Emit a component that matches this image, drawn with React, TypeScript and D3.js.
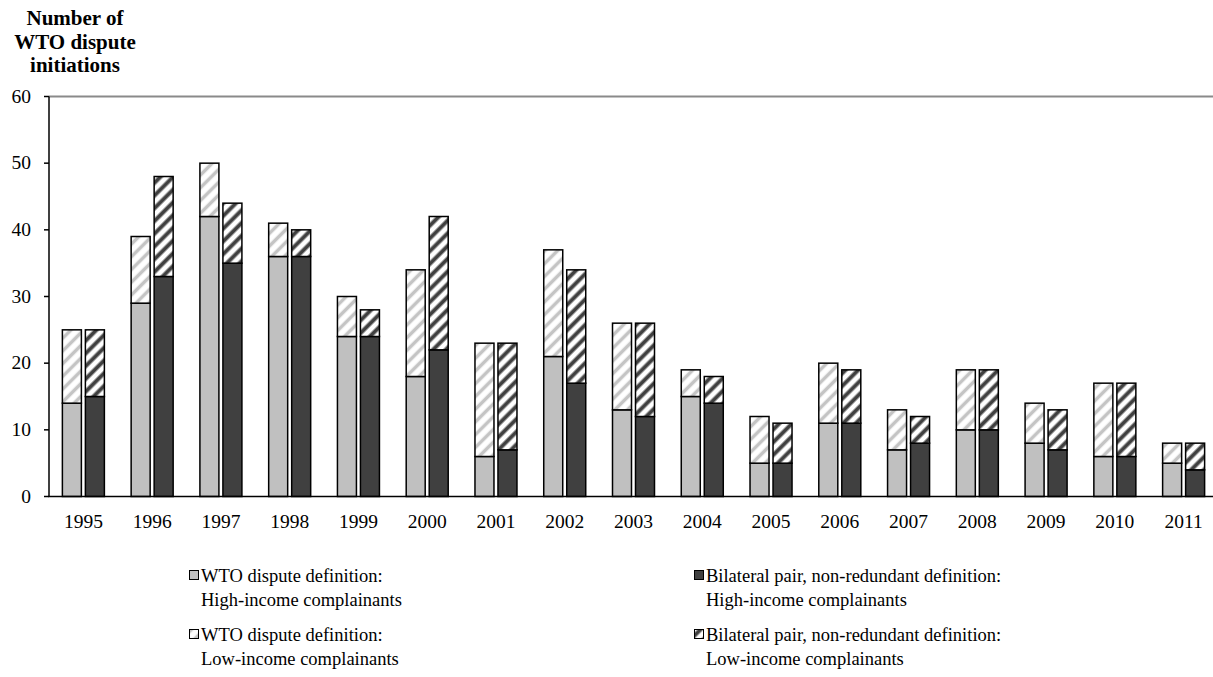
import React from "react";
import * as d3 from "d3";

const years = ["1995","1996","1997","1998","1999","2000","2001","2002","2003","2004","2005","2006","2007","2008","2009","2010","2011"];
// WTO dispute definition
const wtoHigh = [14, 29, 42, 36, 24, 18, 6, 21, 13, 15, 5, 11, 7, 10, 8, 6, 5];
const wtoLow = [11, 10, 8, 5, 6, 16, 17, 16, 13, 4, 7, 9, 6, 9, 6, 11, 3];
// Bilateral pair, non-redundant definition
const bilHigh = [15, 33, 35, 36, 24, 22, 7, 17, 12, 14, 5, 11, 8, 10, 7, 6, 4];
const bilLow = [10, 15, 9, 4, 4, 20, 16, 17, 14, 4, 6, 8, 4, 9, 6, 11, 4];
const yTicks = [0, 10, 20, 30, 40, 50, 60];
const titleLines = ["Number of", "WTO dispute", "initiations"];
const legendItems = [
  { l1: "WTO dispute definition:", l2: "High-income complainants", fill: "#c0c0c0" },
  { l1: "Bilateral pair, non-redundant definition:", l2: "High-income complainants", fill: "#404040" },
  { l1: "WTO dispute definition:", l2: "Low-income complainants", fill: "url(#hatchLight)" },
  { l1: "Bilateral pair, non-redundant definition:", l2: "Low-income complainants", fill: "url(#hatchDark)" },
];

const W = 1213, H = 677;
const FONT = '"Liberation Serif", Times, serif';
const tickTxt = { fontFamily: FONT, fontSize: "19.5px" } as React.CSSProperties;
const legTxt = { fontFamily: FONT, fontSize: "18.5px" } as React.CSSProperties;

export default function App() {
  const x = d3.scaleBand<string>().domain(years).range([49, 1218]).padding(0);
  const y = d3.scaleLinear().domain([0, 60]).range([496.5, 96.5]);
  const bw = 19, gap = 2;

  return (
    <svg width={W} height={H} style={{ position: "absolute", left: 0, top: 0, background: "#fff", fontFamily: FONT }}>
      <defs>
        <pattern id="hatchLight" patternUnits="userSpaceOnUse" width="9" height="9" patternTransform="rotate(45)">
          <rect width="9" height="9" fill="#fff" />
          <line x1="4.5" y1="0" x2="4.5" y2="9" stroke="#c4c4c4" strokeWidth="3.5" />
        </pattern>
        <pattern id="hatchDark" patternUnits="userSpaceOnUse" width="9" height="9" patternTransform="rotate(45)">
          <rect width="9" height="9" fill="#fff" />
          <line x1="4.5" y1="0" x2="4.5" y2="9" stroke="#404040" strokeWidth="4" />
        </pattern>
      </defs>

      {/* title */}
      {titleLines.map((t, i) => (
        <text key={t} x={75} y={25 + i * 23.5} textAnchor="middle" style={{ fontFamily: FONT, fontSize: "21px", fontWeight: "bold" }}>{t}</text>
      ))}

      {/* top line at 60 */}
      <line x1={49} x2={W} y1={y(60)} y2={y(60)} stroke="#8a8a8a" strokeWidth={2} />

      {/* bars */}
      {years.map((yr, i) => {
        const c = (x(yr) as number) + x.bandwidth() / 2;
        const x1 = c - gap - bw, x2 = c + gap;
        return (
          <g key={yr} stroke="#000" strokeWidth={1.5}>
            <rect x={x1} y={y(wtoHigh[i])} width={bw} height={y(0) - y(wtoHigh[i])} fill="#c0c0c0" />
            <rect x={x1} y={y(wtoHigh[i] + wtoLow[i])} width={bw} height={y(wtoHigh[i]) - y(wtoHigh[i] + wtoLow[i])} fill="url(#hatchLight)" />
            <rect x={x2} y={y(bilHigh[i])} width={bw} height={y(0) - y(bilHigh[i])} fill="#404040" />
            <rect x={x2} y={y(bilHigh[i] + bilLow[i])} width={bw} height={y(bilHigh[i]) - y(bilHigh[i] + bilLow[i])} fill="url(#hatchDark)" />
          </g>
        );
      })}

      {/* y axis */}
      <line x1={49} x2={49} y1={y(60)} y2={y(0)} stroke="#000" strokeWidth={1.5} />
      {yTicks.map(t => (
        <g key={t}>
          <line x1={44} x2={49} y1={y(t)} y2={y(t)} stroke="#000" strokeWidth={1.5} />
          <text x={31} y={y(t) + 6} textAnchor="end" style={tickTxt}>{t}</text>
        </g>
      ))}

      {/* x axis */}
      <line x1={48.25} x2={W} y1={y(0)} y2={y(0)} stroke="#000" strokeWidth={1.5} />
      {years.map(yr => (
        <text key={yr} x={(x(yr) as number) + x.bandwidth() / 2} y={528} textAnchor="middle" style={tickTxt}>{yr}</text>
      ))}

      {/* legend */}
      {legendItems.map((it, i) => {
        const lx = i % 2 === 0 ? 189 : 694;
        const row = Math.floor(i / 2);
        const by = 582 + row * 59;
        return (
          <g key={i}>
            <rect x={lx + 0.5} y={by - 11.5} width={9} height={9} fill={it.fill} stroke="#000" strokeWidth={1} />
            <text x={lx + 12} y={by} style={legTxt}>{it.l1}</text>
            <text x={lx + 12} y={by + 24} style={legTxt}>{it.l2}</text>
          </g>
        );
      })}
    </svg>
  );
}
